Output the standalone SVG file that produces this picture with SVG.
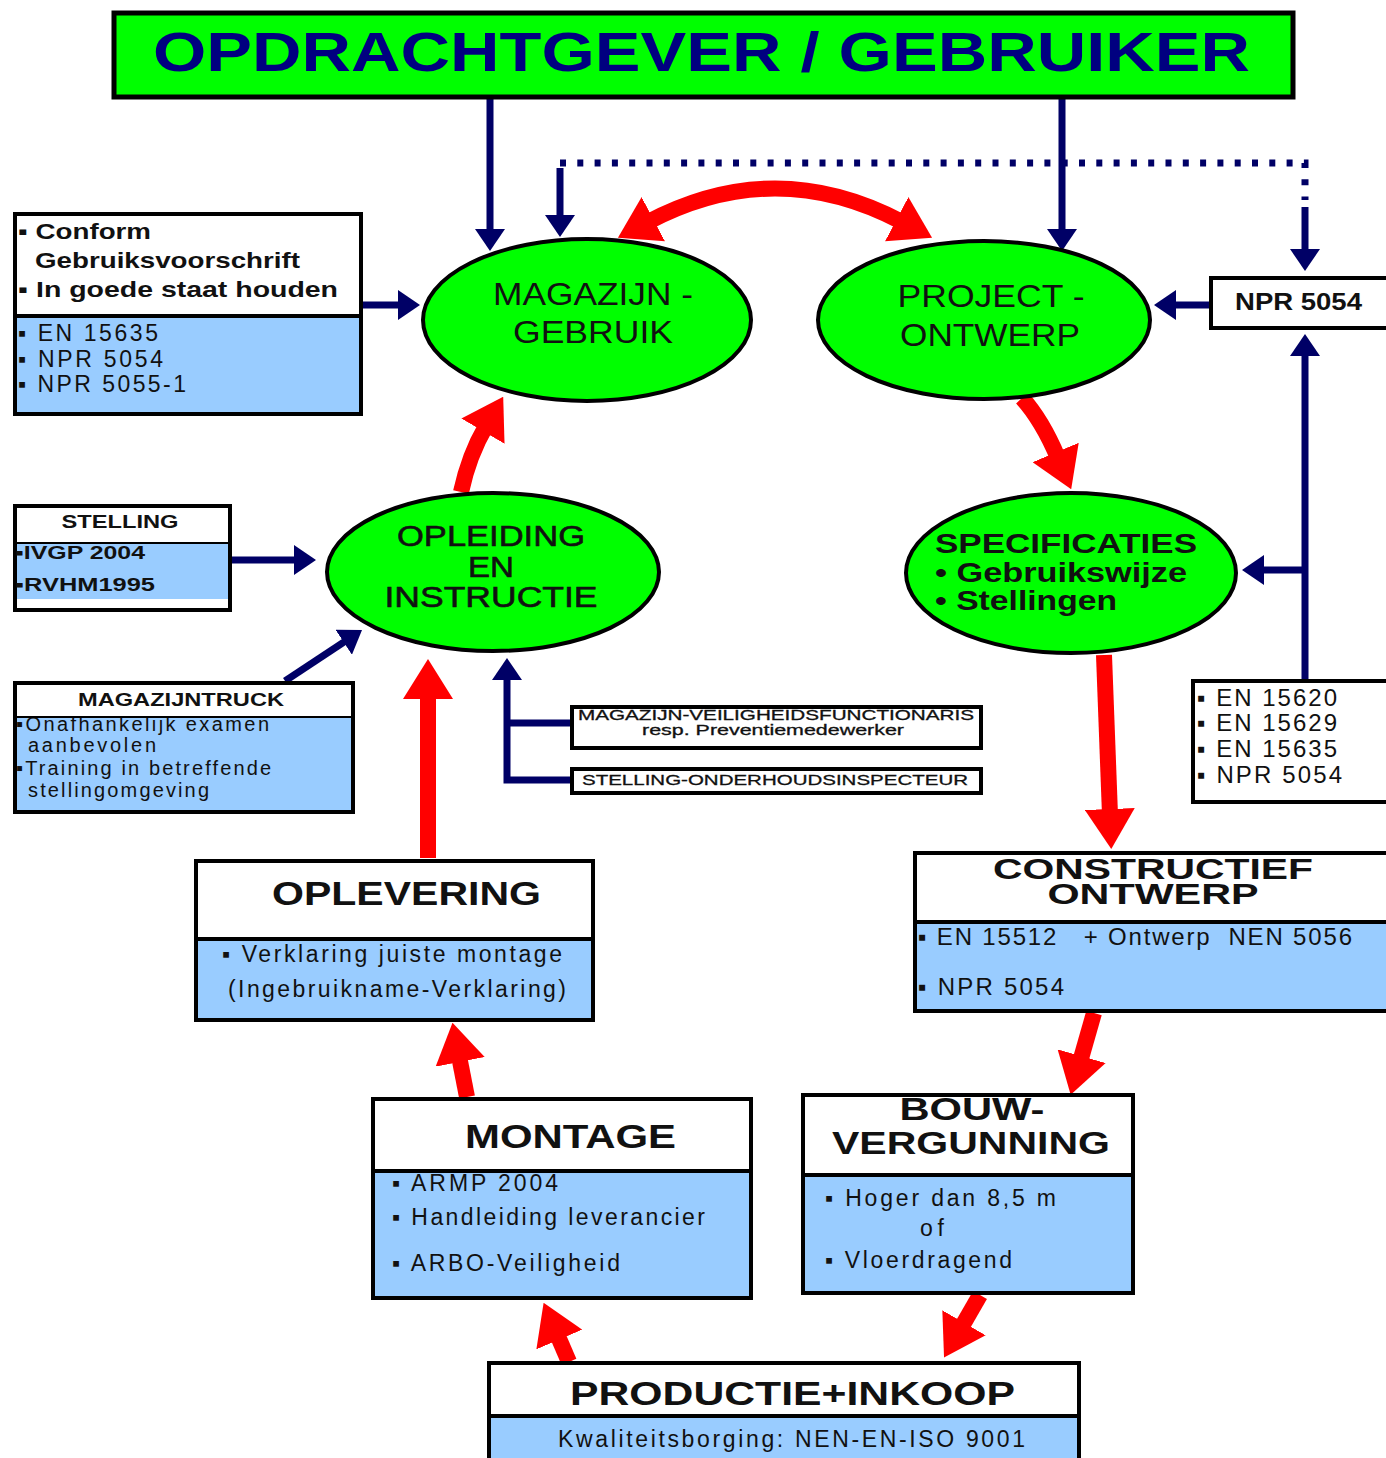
<svg xmlns="http://www.w3.org/2000/svg" width="1386" height="1458" viewBox="0 0 1386 1458">
<style>
.box{stroke:#000;stroke-width:4}
.w{fill:#fff}
.b{fill:#99CCFF}
.g{fill:#00FF00;stroke:#000;stroke-width:4}
.sep{stroke:#000;stroke-width:4}
.t{font-family:"Liberation Sans",Arial,sans-serif;fill:#111}
.bd{font-weight:bold}
.red{fill:none;stroke:#FF0000;stroke-width:16;marker-end:url(#rh)}
.nav{fill:none;stroke:#000066;stroke-width:7}
.na{marker-end:url(#nh)}
</style>
<defs>
<marker id="rh" markerUnits="userSpaceOnUse" viewBox="0 0 40 50" refX="6" refY="25" markerWidth="40" markerHeight="50" orient="auto-start-reverse"><path d="M0,0 L40,25 L0,50 Z" fill="#FF0000"/></marker>
<marker id="nh" markerUnits="userSpaceOnUse" viewBox="0 0 22 30" refX="4" refY="15" markerWidth="22" markerHeight="30" orient="auto-start-reverse"><path d="M0,0 L22,15 L0,30 Z" fill="#000066"/></marker>
</defs>
<rect width="1386" height="1458" fill="#fff"/>

<g id="connectors">
<path class="nav na" d="M490,98 L490,233"/>
<path class="nav na" d="M1062,98 L1062,233"/>
<path class="nav na" d="M560,168 L560,219"/>
<path class="nav" d="M560,163 L1305,163 L1305,200" stroke-dasharray="6 11.3" stroke-width="7"/>
<path class="nav na" d="M1305,207 L1305,253"/>
<path class="nav na" d="M363,305 L402,305"/>
<path class="nav na" d="M1211,305 L1172,305"/>
<path class="nav na" d="M1305,680 L1305,352"/>
<path class="nav na" d="M1305,570 L1260,570"/>
<path class="nav na" d="M232,560 L298,560"/>
<path class="nav na" d="M285,681 L347,640"/>
<path class="nav na" d="M570,780 L507,780 L507,676"/>
<path class="nav" d="M507,723 L570,723"/>
<path class="red" d="M648,222 Q775,155 902,222" marker-start="url(#rh)"/>
<path class="red" d="M1022,398 Q1042,420 1058,458"/>
<path class="red" d="M1104,655 L1110,815"/>
<path class="red" d="M1094,1013 L1080,1062"/>
<path class="red" d="M980,1295 L961,1328"/>
<path class="red" d="M569,1362 L557,1334"/>
<path class="red" d="M467,1097 L459,1056"/>
<path class="red" d="M428,858 L428,693"/>
<path class="red" d="M461,492 Q469,455 486,426"/>
</g>

<g id="opdrachtgever">
<rect x="114" y="13" width="1179" height="84" fill="#00FF00" stroke="#000" stroke-width="5"/>
<text x="153" y="71" class="t bd" font-size="55" style="fill:#000080" textLength="1097" lengthAdjust="spacingAndGlyphs">OPDRACHTGEVER / GEBRUIKER</text>
</g>

<g id="magazijn-gebruik">
<ellipse cx="587" cy="320" rx="164" ry="81" class="g"/>
<text x="593" y="305" class="t" font-size="31" text-anchor="middle" textLength="200" lengthAdjust="spacingAndGlyphs">MAGAZIJN -</text>
<text x="593" y="343" class="t" font-size="31" text-anchor="middle" textLength="160" lengthAdjust="spacingAndGlyphs">GEBRUIK</text>
</g>

<g id="project-ontwerp">
<ellipse cx="984" cy="320" rx="166" ry="79" class="g"/>
<text x="991" y="307" class="t" font-size="31" text-anchor="middle" textLength="187" lengthAdjust="spacingAndGlyphs">PROJECT -</text>
<text x="990" y="346" class="t" font-size="31" text-anchor="middle" textLength="180" lengthAdjust="spacingAndGlyphs">ONTWERP</text>
</g>

<g id="opleiding">
<ellipse cx="493" cy="572" rx="166" ry="79" class="g"/>
<text x="491" y="546" class="t" font-size="30" text-anchor="middle" textLength="188" lengthAdjust="spacingAndGlyphs" stroke="#111" stroke-width="0.6">OPLEIDING</text>
<text x="491" y="577" class="t" font-size="30" text-anchor="middle" textLength="46" lengthAdjust="spacingAndGlyphs" stroke="#111" stroke-width="0.6">EN</text>
<text x="491" y="607" class="t" font-size="30" text-anchor="middle" textLength="213" lengthAdjust="spacingAndGlyphs" stroke="#111" stroke-width="0.6">INSTRUCTIE</text>
</g>

<g id="specificaties">
<ellipse cx="1071" cy="573" rx="165" ry="80" class="g"/>
<text x="935" y="553" class="t bd" font-size="27" textLength="262" lengthAdjust="spacingAndGlyphs">SPECIFICATIES</text>
<text x="935" y="582" class="t bd" font-size="27" textLength="252" lengthAdjust="spacingAndGlyphs">• Gebruikswijze</text>
<text x="935" y="610" class="t bd" font-size="27" textLength="182" lengthAdjust="spacingAndGlyphs">• Stellingen</text>
</g>

<g id="gebruik-eisen">
<rect x="15" y="214" width="346" height="200" class="box w"/>
<rect x="17" y="316" width="342" height="96" class="b"/>
<line x1="15" y1="316" x2="361" y2="316" class="sep"/>
<text x="18" y="239" class="t bd" font-size="22" textLength="133" lengthAdjust="spacingAndGlyphs">▪ Conform</text>
<text x="35" y="268" class="t bd" font-size="22" textLength="265" lengthAdjust="spacingAndGlyphs">Gebruiksvoorschrift</text>
<text x="18" y="297" class="t bd" font-size="22" textLength="320" lengthAdjust="spacingAndGlyphs">▪ In goede staat houden</text>
<text x="18" y="341" class="t" font-size="23" textLength="140" lengthAdjust="spacing">▪ EN 15635</text>
<text x="18" y="367" class="t" font-size="23" textLength="145" lengthAdjust="spacing">▪ NPR 5054</text>
<text x="18" y="392" class="t" font-size="23" textLength="168" lengthAdjust="spacing">▪ NPR 5055-1</text>
</g>

<g id="npr5054-top">
<rect x="1211" y="278" width="200" height="50" class="box w"/>
<text x="1235" y="310" class="t bd" font-size="23" textLength="127" lengthAdjust="spacingAndGlyphs">NPR 5054</text>
</g>

<g id="en-normen">
<rect x="1193" y="681" width="220" height="121" class="box w"/>
<text x="1197" y="706" class="t" font-size="24" textLength="140" lengthAdjust="spacing">▪ EN 15620</text>
<text x="1197" y="731" class="t" font-size="24" textLength="140" lengthAdjust="spacing">▪ EN 15629</text>
<text x="1197" y="757" class="t" font-size="24" textLength="140" lengthAdjust="spacing">▪ EN 15635</text>
<text x="1197" y="783" class="t" font-size="24" textLength="145" lengthAdjust="spacing">▪ NPR 5054</text>
</g>

<g id="stelling">
<rect x="15" y="506" width="215" height="104" class="box w"/>
<rect x="17" y="543" width="211" height="56" class="b"/>
<line x1="15" y1="543" x2="230" y2="543" stroke="#000" stroke-width="2"/>
<text x="120" y="528" class="t bd" font-size="18" text-anchor="middle" textLength="117" lengthAdjust="spacingAndGlyphs">STELLING</text>
<text x="15" y="559" class="t bd" font-size="18" textLength="130" lengthAdjust="spacingAndGlyphs">▪IVGP 2004</text>
<text x="15" y="591" class="t bd" font-size="18" textLength="140" lengthAdjust="spacingAndGlyphs">▪RVHM1995</text>
</g>

<g id="magazijntruck">
<rect x="15" y="683" width="338" height="129" class="box w"/>
<rect x="17" y="717" width="334" height="93" class="b"/>
<text x="16" y="731" class="t" font-size="20" textLength="253" lengthAdjust="spacing">▪Onafhankelijk examen</text>
<rect x="17" y="685" width="334" height="31" class="w"/>
<line x1="15" y1="717" x2="353" y2="717" stroke="#000" stroke-width="2"/>
<text x="181" y="706" class="t bd" font-size="18" text-anchor="middle" textLength="206" lengthAdjust="spacingAndGlyphs">MAGAZIJNTRUCK</text>
<text x="28" y="752" class="t" font-size="20" textLength="128" lengthAdjust="spacing">aanbevolen</text>
<text x="16" y="775" class="t" font-size="20" textLength="255" lengthAdjust="spacing">▪Training in betreffende</text>
<text x="28" y="797" class="t" font-size="20" textLength="181" lengthAdjust="spacing">stellingomgeving</text>
</g>

<g id="veiligheidsfunctionaris">
<rect x="572" y="707" width="409" height="41" class="box w"/>
<text x="776" y="720" class="t" font-size="14" text-anchor="middle" textLength="396" lengthAdjust="spacingAndGlyphs" stroke="#111" stroke-width="0.3">MAGAZIJN-VEILIGHEIDSFUNCTIONARIS</text>
<text x="773" y="735" class="t" font-size="14" text-anchor="middle" textLength="262" lengthAdjust="spacingAndGlyphs" stroke="#111" stroke-width="0.3">resp. Preventiemedewerker</text>
</g>

<g id="onderhoudsinspecteur">
<rect x="572" y="769" width="409" height="24" class="box w"/>
<text x="775" y="785" class="t" font-size="15" text-anchor="middle" textLength="386" lengthAdjust="spacingAndGlyphs" stroke="#111" stroke-width="0.3">STELLING-ONDERHOUDSINSPECTEUR</text>
</g>

<g id="oplevering">
<rect x="196" y="861" width="397" height="159" class="box w"/>
<rect x="198" y="939" width="393" height="79" class="b"/>
<line x1="196" y1="939" x2="593" y2="939" class="sep"/>
<text x="272" y="905" class="t bd" font-size="33" textLength="269" lengthAdjust="spacingAndGlyphs">OPLEVERING</text>
<text x="222" y="962" class="t" font-size="23" textLength="340" lengthAdjust="spacing">▪ Verklaring juiste montage</text>
<text x="228" y="997" class="t" font-size="23" textLength="338" lengthAdjust="spacing">(Ingebruikname-Verklaring)</text>
</g>

<g id="constructief-ontwerp">
<rect x="915" y="853" width="500" height="158" class="box w"/>
<rect x="917" y="922" width="496" height="87" class="b"/>
<line x1="915" y1="922" x2="1415" y2="922" class="sep"/>
<text x="1153" y="879" class="t bd" font-size="29" text-anchor="middle" textLength="320" lengthAdjust="spacingAndGlyphs">CONSTRUCTIEF</text>
<text x="1153" y="904" class="t bd" font-size="29" text-anchor="middle" textLength="211" lengthAdjust="spacingAndGlyphs">ONTWERP</text>
<text x="918" y="945" class="t" font-size="24" textLength="434" lengthAdjust="spacing" xml:space="preserve">▪ EN 15512   + Ontwerp  NEN 5056</text>
<text x="918" y="995" class="t" font-size="24" textLength="146" lengthAdjust="spacing">▪ NPR 5054</text>
</g>

<g id="montage">
<rect x="373" y="1099" width="378" height="199" class="box w"/>
<rect x="375" y="1171" width="374" height="125" class="b"/>
<line x1="373" y1="1171" x2="751" y2="1171" class="sep"/>
<text x="465" y="1148" class="t bd" font-size="33" textLength="211" lengthAdjust="spacingAndGlyphs">MONTAGE</text>
<text x="392" y="1191" class="t" font-size="23" textLength="166" lengthAdjust="spacing">▪ ARMP 2004</text>
<text x="392" y="1225" class="t" font-size="23" textLength="313" lengthAdjust="spacing">▪ Handleiding leverancier</text>
<text x="392" y="1271" class="t" font-size="23" textLength="228" lengthAdjust="spacing">▪ ARBO-Veiligheid</text>
</g>

<g id="bouwvergunning">
<rect x="803" y="1095" width="330" height="198" class="box w"/>
<rect x="805" y="1175" width="326" height="116" class="b"/>
<line x1="803" y1="1175" x2="1133" y2="1175" class="sep"/>
<text x="972" y="1120" class="t bd" font-size="32" text-anchor="middle" textLength="145" lengthAdjust="spacingAndGlyphs">BOUW-</text>
<text x="971" y="1154" class="t bd" font-size="32" text-anchor="middle" textLength="278" lengthAdjust="spacingAndGlyphs">VERGUNNING</text>
<text x="825" y="1206" class="t" font-size="23" textLength="231" lengthAdjust="spacing">▪ Hoger dan 8,5 m</text>
<text x="920" y="1236" class="t" font-size="23" textLength="24" lengthAdjust="spacing">of</text>
<text x="825" y="1268" class="t" font-size="23" textLength="187" lengthAdjust="spacing">▪ Vloerdragend</text>
</g>

<g id="productie-inkoop">
<rect x="489" y="1363" width="590" height="120" class="box w"/>
<rect x="491" y="1416" width="586" height="42" class="b"/>
<line x1="489" y1="1416" x2="1079" y2="1416" class="sep"/>
<text x="570" y="1405" class="t bd" font-size="33" textLength="445" lengthAdjust="spacingAndGlyphs">PRODUCTIE+INKOOP</text>
<text x="558" y="1447" class="t" font-size="23" textLength="467" lengthAdjust="spacing">Kwaliteitsborging: NEN-EN-ISO 9001</text>
</g>
</svg>
